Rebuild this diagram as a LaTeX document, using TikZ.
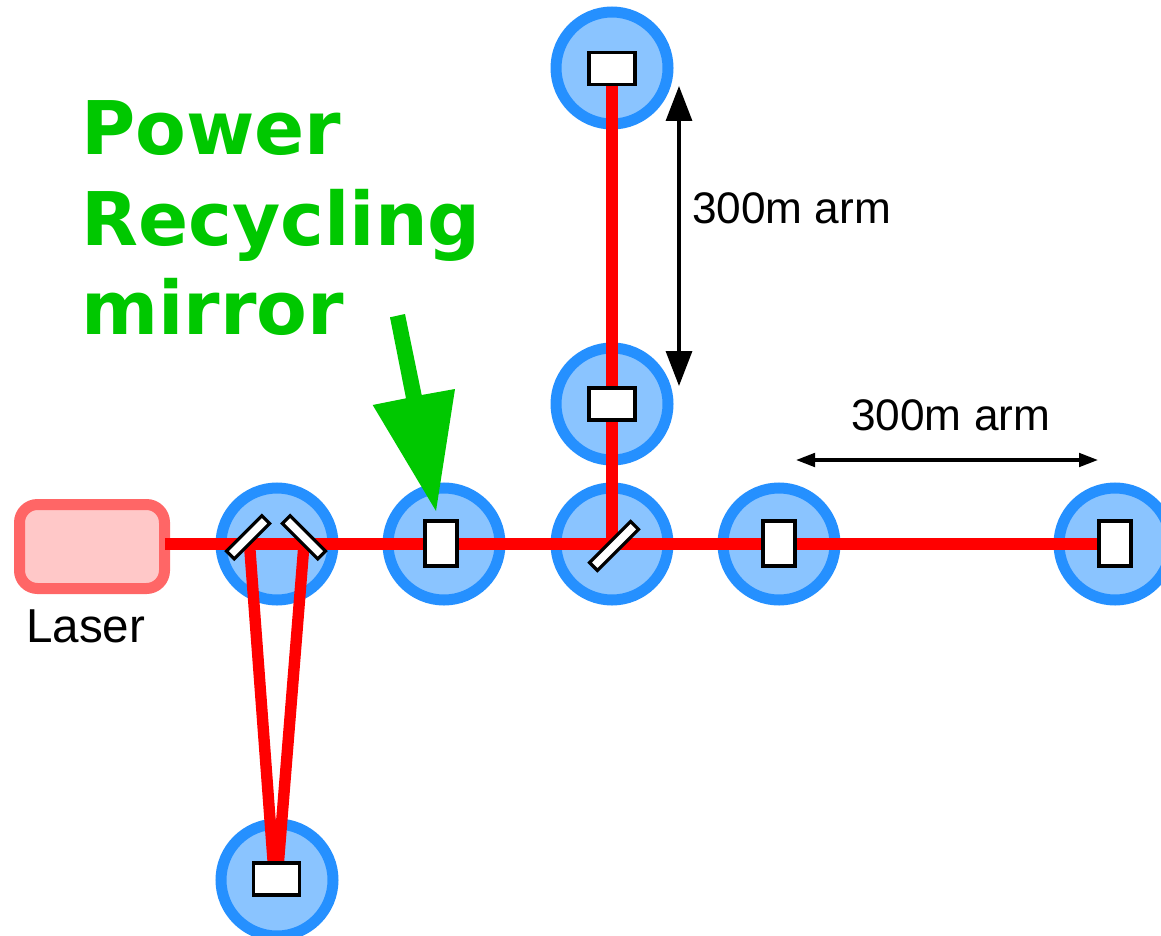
\documentclass[tikz,border=0pt]{standalone}
\usepackage{fontspec}
\setmainfont{Liberation Sans}
\newfontfamily\greenfont{DejaVu Sans}[BoldFont={DejaVu Sans Bold}]
\usetikzlibrary{arrows.meta}
\definecolor{stageline}{HTML}{2590FF}
\definecolor{stagefill}{HTML}{8AC4FF}
\definecolor{laserline}{HTML}{FF6666}
\definecolor{laserfill}{HTML}{FFC8C8}
\definecolor{beamred}{HTML}{FF0000}
\definecolor{callgreen}{HTML}{00C800}
\tikzset{
  x=1pt,y=-1pt,
  stage/.style={circle,draw=stageline,fill=stagefill,line width=11pt,minimum size=112pt,inner sep=0pt},
  beam/.style={draw=beamred,line width=11.4pt},
  mirror/.style={rectangle,draw=black,fill=white,line width=3.2pt,inner sep=0pt},
  dim/.style={draw=black,line width=3.3pt},
  lbl/.style={font=\fontsize{44.2}{44}\selectfont,inner sep=0pt,anchor=base west},
  lasertxt/.style={font=\fontsize{47.6}{48}\selectfont,inner sep=0pt,anchor=base west},
  calllbl/.style={font=\fontsize{74}{88}\selectfont\greenfont\bfseries,text=callgreen,inner sep=0pt,anchor=base west},
}
\begin{document}
\begin{tikzpicture}
\useasboundingbox (0,0) rectangle (1161,936);
\node[stage] (s1) at (277,544) {};
\node[stage] (s2) at (444,544) {};
\node[stage] (s3) at (612,544) {};
\node[stage] (s4) at (779,544) {};
\node[stage] (s5) at (1115,544) {};
\node[stage] (s6) at (612,404) {};
\node[stage] (s7) at (612,68) {};
\node[stage] (s8) at (277,880) {};
\node[rectangle,rounded corners=18pt,draw=laserline,fill=laserfill,line width=11pt,minimum width=145pt,minimum height=84pt,inner sep=0pt] (laser) at (92,546.5) {};
\coordinate (bstart) at (165,544);
\coordinate (bend) at (1115,544);
\coordinate (vtop) at (612,68);
\coordinate (vbot) at (612,544);
\coordinate (fl) at (249.5,544);
\coordinate (fr) at (304,544);
\coordinate (fbl) at (274.5,880);
\coordinate (fbr) at (277,880);
\draw[beam] (bstart) -- (bend);
\draw[beam] (vtop) -- (vbot);
\draw[beam] (fl) -- (fbl);
\draw[beam] (fr) -- (fbr);
\node[mirror,minimum width=32pt,minimum height=45pt] (m2) at (441,543.5) {};
\node[mirror,minimum width=32pt,minimum height=45pt] (m4) at (779,543.5) {};
\node[mirror,minimum width=32pt,minimum height=45pt] (m5) at (1115,543.5) {};
\node[mirror,minimum width=46pt,minimum height=32pt] (m6) at (612,404) {};
\node[mirror,minimum width=46pt,minimum height=32pt] (m7) at (612,68.5) {};
\node[mirror,minimum width=46pt,minimum height=32pt] (m8) at (276.5,879) {};
\node[mirror,minimum width=58pt,minimum height=11pt,rotate=45] (bs) at (614,546) {};
\node[mirror,minimum width=50pt,minimum height=11pt,rotate=45] (fm1) at (248,537.3) {};
\node[mirror,minimum width=50pt,minimum height=11pt,rotate=-45] (fm2) at (304,537.3) {};
\fill[callgreen] (390,317.3) -- (405,314) -- (421.7,395) -- (455,389) -- (436,511) -- (372.7,405) -- (406,398.3) -- cycle;
\coordinate (a1) at (679,86);
\coordinate (a2) at (679,386);
\coordinate (b1) at (796,460);
\coordinate (b2) at (1098,460);
\draw[dim,{Triangle[length=35pt,width=26pt]}-{Triangle[length=35pt,width=26pt]}] (a1) -- (a2);
\draw[dim,{Triangle[length=19pt,width=13.5pt]}-{Triangle[length=19pt,width=13.5pt]}] (b1) -- (b2);
\node[lbl] (t1) at (692,223) {300m arm};
\node[lbl] (t2) at (851,430) {300m arm};
\node[lasertxt] (t3) at (26,642) {Laser};
\node[calllbl] (c1) at (81,155) {Power};
\node[calllbl] (c2) at (81,245) {Recycling};
\node[calllbl] (c3) at (81,334) {mirror};
\end{tikzpicture}
\end{document}
